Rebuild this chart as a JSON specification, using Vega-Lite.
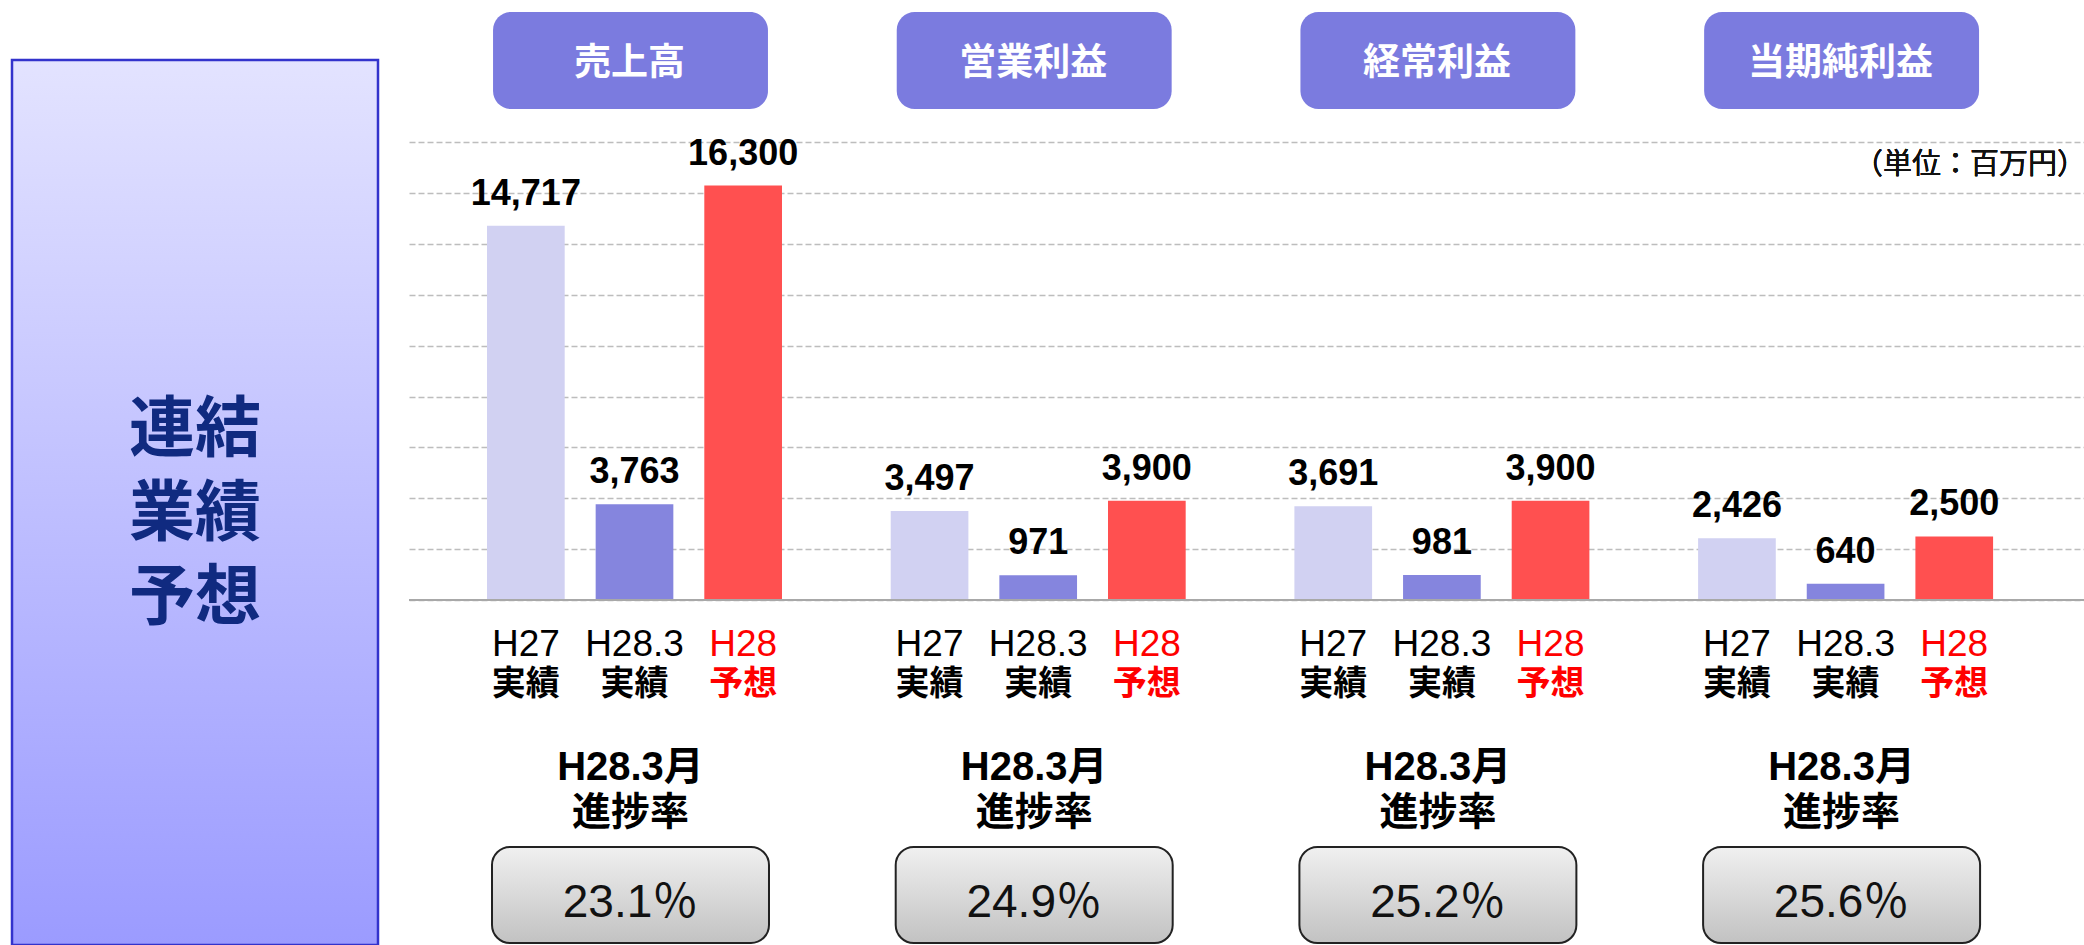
{
  "$schema": "https://vega.github.io/schema/vega-lite/v6.json",
  "padding": {"left": 10, "top": 0, "right": 0, "bottom": 0},
  "spacing": 31,
  "bounds": "flush",
  "config": {"view": {"stroke": null}, "font": "Noto Sans CJK JP"},
  "datasets": {
    "panel": [{"label": "連結\n業績\n予想"}],
    "bars": [
      {"metric": "売上高", "yr": "H27", "kind": "実績", "value": 14717},
      {"metric": "売上高", "yr": "H28.3", "kind": "実績", "value": 3763},
      {"metric": "売上高", "yr": "H28", "kind": "予想", "value": 16300},
      {"metric": "営業利益", "yr": "H27", "kind": "実績", "value": 3497},
      {"metric": "営業利益", "yr": "H28.3", "kind": "実績", "value": 971},
      {"metric": "営業利益", "yr": "H28", "kind": "予想", "value": 3900},
      {"metric": "経常利益", "yr": "H27", "kind": "実績", "value": 3691},
      {"metric": "経常利益", "yr": "H28.3", "kind": "実績", "value": 981},
      {"metric": "経常利益", "yr": "H28", "kind": "予想", "value": 3900},
      {"metric": "当期純利益", "yr": "H27", "kind": "実績", "value": 2426},
      {"metric": "当期純利益", "yr": "H28.3", "kind": "実績", "value": 640},
      {"metric": "当期純利益", "yr": "H28", "kind": "予想", "value": 2500}
    ],
    "metrics": [
      {"metric": "売上高", "month": "H28.3月", "title": "進捗率", "rate": "23.1％"},
      {"metric": "営業利益", "month": "H28.3月", "title": "進捗率", "rate": "24.9％"},
      {"metric": "経常利益", "month": "H28.3月", "title": "進捗率", "rate": "25.2％"},
      {"metric": "当期純利益", "month": "H28.3月", "title": "進捗率", "rate": "25.6％"}
    ]
  },
  "hconcat": [
    {
      "width": 366,
      "height": 945,
      "data": {"name": "panel"},
      "layer": [
        {
          "mark": {
            "type": "rect",
            "fill": {"gradient": "linear", "x1": 0, "y1": 0, "x2": 0, "y2": 1,
              "stops": [{"offset": 0, "color": "#E3E3FF"}, {"offset": 0.5, "color": "#BFBFFF"}, {"offset": 1, "color": "#9B9BFF"}]},
            "stroke": "#3333CC",
            "strokeWidth": 2.5
          },
          "encoding": {
            "x": {"datum": 0, "type": "quantitative", "scale": {"domain": [0, 1], "nice": false, "zero": false}, "axis": null},
            "x2": {"datum": 1},
            "y": {"datum": 21237, "type": "quantitative", "scale": {"domain": [-13568, 23598], "nice": false, "zero": false}, "axis": null},
            "y2": {"datum": -13568}
          }
        },
        {
          "mark": {"type": "text", "lineBreak": "\n", "lineHeight": 84, "fontSize": 66, "fontWeight": "bold", "color": "#102A80", "baseline": "middle", "align": "center"},
          "encoding": {
            "x": {"datum": 0.5, "type": "quantitative", "scale": {"domain": [0, 1], "nice": false, "zero": false}, "axis": null},
            "y": {"datum": 6650, "type": "quantitative", "scale": {"domain": [-13568, 23598], "nice": false, "zero": false}, "axis": null},
            "text": {"field": "label"}
          }
        }
      ]
    },
    {
      "width": 1677,
      "height": 945,
      "layer": [
        {
          "data": {"name": "bars"},
          "mark": {"type": "bar"},
          "encoding": {
            "x": {"field": "metric", "type": "nominal", "sort": null, "axis": null,
              "scale": {"domain": ["売上高", "営業利益", "経常利益", "当期純利益"], "paddingInner": 0.2693, "paddingOuter": 0.2117, "align": 0.4564}},
            "xOffset": {"field": "yr", "type": "nominal", "scale": {"domain": ["H27", "H28.3", "H28"], "paddingInner": 0.285, "paddingOuter": 0}},
            "y": {"field": "value", "type": "quantitative",
              "scale": {"domain": [-13568, 23598], "nice": false, "zero": false},
              "axis": {"values": [0, 2000, 4000, 6000, 8000, 10000, 12000, 14000, 16000, 18000], "grid": true, "gridDash": [6, 3], "gridColor": "#BDBDBD", "gridWidth": 1.5, "labels": false, "ticks": false, "domain": false, "title": null}},
            "color": {"field": "yr", "type": "nominal", "legend": null,
              "scale": {"domain": ["H27", "H28.3", "H28"], "range": ["#D1D1F2", "#8585DE", "#FF5050"]}}
          }
        },
        {
          "data": {"name": "bars"},
          "mark": {"type": "rule", "color": "#A8A8A8", "strokeWidth": 2},
          "encoding": {
            "y": {"datum": 0, "type": "quantitative", "scale": {"domain": [-13568, 23598], "nice": false, "zero": false}}
          }
        },
        {
          "data": {"name": "metrics"},
          "mark": {"type": "bar", "color": "#7B7BDF", "cornerRadius": 18, "width": {"band": 0.932}, "xOffset": -4},
          "encoding": {
            "x": {"field": "metric", "type": "nominal", "sort": null},
            "y": {"datum": 23125, "type": "quantitative", "scale": {"domain": [-13568, 23598], "nice": false, "zero": false}},
            "y2": {"datum": 19310}
          }
        },
        {
          "data": {"name": "metrics"},
          "mark": {"type": "text", "color": "#FFFFFF", "fontSize": 37, "fontWeight": "bold", "baseline": "middle", "align": "center", "dx": -5},
          "encoding": {
            "x": {"field": "metric", "type": "nominal", "sort": null},
            "y": {"datum": 21080, "type": "quantitative", "scale": {"domain": [-13568, 23598], "nice": false, "zero": false}},
            "text": {"field": "metric"}
          }
        },
        {
          "data": {"name": "metrics"},
          "mark": {"type": "text", "text": "（単位：百万円）", "color": "#111111", "fontSize": 29, "baseline": "middle", "align": "right", "dx": 93},
          "encoding": {
            "x": {"datum": "当期純利益", "type": "nominal", "bandPosition": 1},
            "y": {"datum": 17108, "type": "quantitative", "scale": {"domain": [-13568, 23598], "nice": false, "zero": false}}
          }
        },
        {
          "data": {"name": "bars"},
          "mark": {"type": "text", "font": "Liberation Sans", "fontSize": 36, "fontWeight": "bold", "color": "#000000", "baseline": "alphabetic", "align": "center", "dy": -21},
          "encoding": {
            "x": {"field": "metric", "type": "nominal", "sort": null},
            "xOffset": {"field": "yr", "type": "nominal"},
            "y": {"field": "value", "type": "quantitative", "scale": {"domain": [-13568, 23598], "nice": false, "zero": false}},
            "text": {"field": "value", "type": "quantitative", "format": ","}
          }
        },
        {
          "data": {"name": "bars"},
          "mark": {"type": "text", "font": "Liberation Sans", "fontSize": 37, "baseline": "alphabetic", "align": "center"},
          "encoding": {
            "x": {"field": "metric", "type": "nominal", "sort": null},
            "xOffset": {"field": "yr", "type": "nominal"},
            "y": {"datum": -2202, "type": "quantitative", "scale": {"domain": [-13568, 23598], "nice": false, "zero": false}},
            "text": {"field": "yr"},
            "color": {"condition": {"test": "datum.yr === 'H28'", "value": "#FF0000"}, "value": "#000000"}
          }
        },
        {
          "data": {"name": "bars"},
          "mark": {"type": "text", "fontSize": 34, "fontWeight": "bold", "baseline": "alphabetic", "align": "center"},
          "encoding": {
            "x": {"field": "metric", "type": "nominal", "sort": null},
            "xOffset": {"field": "yr", "type": "nominal"},
            "y": {"datum": -3720, "type": "quantitative", "scale": {"domain": [-13568, 23598], "nice": false, "zero": false}},
            "text": {"field": "kind"},
            "color": {"condition": {"test": "datum.yr === 'H28'", "value": "#FF0000"}, "value": "#000000"}
          }
        },
        {
          "data": {"name": "metrics"},
          "mark": {"type": "text", "font": "Liberation Sans, Noto Sans CJK JP", "fontSize": 40, "fontWeight": "bold", "color": "#000000", "baseline": "alphabetic", "align": "center", "dx": -4},
          "encoding": {
            "x": {"field": "metric", "type": "nominal", "sort": null},
            "y": {"datum": -7079, "type": "quantitative", "scale": {"domain": [-13568, 23598], "nice": false, "zero": false}},
            "text": {"field": "month"}
          }
        },
        {
          "data": {"name": "metrics"},
          "mark": {"type": "text", "fontSize": 39, "fontWeight": "bold", "color": "#000000", "baseline": "alphabetic", "align": "center", "dx": -4},
          "encoding": {
            "x": {"field": "metric", "type": "nominal", "sort": null},
            "y": {"datum": -8849, "type": "quantitative", "scale": {"domain": [-13568, 23598], "nice": false, "zero": false}},
            "text": {"field": "title"}
          }
        },
        {
          "data": {"name": "metrics"},
          "mark": {"type": "bar", "cornerRadius": 18, "width": {"band": 0.939}, "stroke": "#222222", "strokeWidth": 2, "xOffset": -4,
            "fill": {"gradient": "linear", "x1": 0, "y1": 0, "x2": 0, "y2": 1,
              "stops": [{"offset": 0, "color": "#F0F0F0"}, {"offset": 1, "color": "#C2C2C2"}]}},
          "encoding": {
            "x": {"field": "metric", "type": "nominal", "sort": null},
            "y": {"datum": -9714, "type": "quantitative", "scale": {"domain": [-13568, 23598], "nice": false, "zero": false}},
            "y2": {"datum": -13490}
          }
        },
        {
          "data": {"name": "metrics"},
          "mark": {"type": "text", "font": "Liberation Sans, Noto Sans CJK JP", "fontSize": 46, "color": "#111111", "baseline": "alphabetic", "align": "center", "dx": -4},
          "encoding": {
            "x": {"field": "metric", "type": "nominal", "sort": null},
            "y": {"datum": -12467, "type": "quantitative", "scale": {"domain": [-13568, 23598], "nice": false, "zero": false}},
            "text": {"field": "rate"}
          }
        }
      ]
    }
  ]
}
